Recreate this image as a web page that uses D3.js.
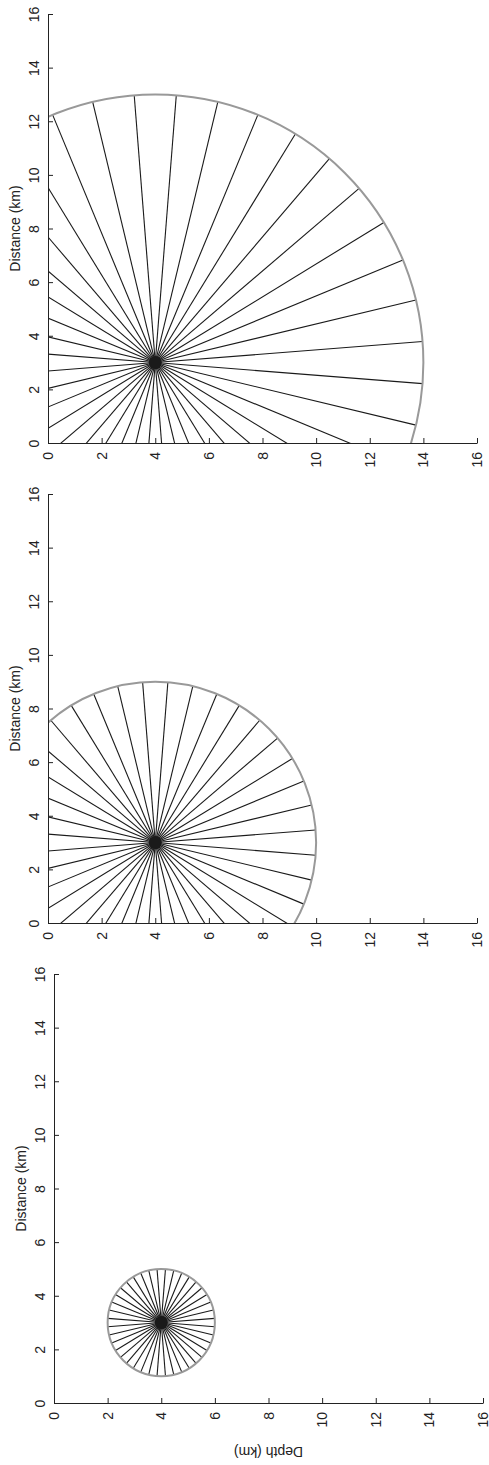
<!DOCTYPE html>
<html>
<head>
<meta charset="utf-8">
<script src="https://cdn.jsdelivr.net/npm/d3@7"></script>
<style>
  body { margin: 0; background: #fff; }
  text { font-family: "Liberation Sans", Arial, sans-serif; font-size: 14px; fill: #222; }
</style>
</head>
<body>
<div id="chart"></div>
<script>
// wavefront radii (km) for the three panels, top to bottom
const radii = [10, 6, 2];
// source position
const sourceDepth = 4;
const sourceDistance = 3;
// ray directions in degrees (40 rays)
const rayAngles = [4.5, 13.5, 22.5, 31.5, 40.5, 49.5, 58.5, 67.5, 76.5, 85.5,
  94.5, 103.5, 112.5, 121.5, 130.5, 139.5, 148.5, 157.5, 166.5, 175.5,
  184.5, 193.5, 202.5, 211.5, 220.5, 229.5, 238.5, 247.5, 256.5, 265.5,
  274.5, 283.5, 292.5, 301.5, 310.5, 319.5, 328.5, 337.5, 346.5, 355.5];
const tickValues = [0, 2, 4, 6, 8, 10, 12, 14, 16];
const axisMax = 16;

const width = 489, height = 1465;
const plotSize = 429;
const panelLeft = [48, 48, 54];
const panelBottom = [443, 923, 1403];

const svg = d3.select("#chart").append("svg")
  .attr("width", width)
  .attr("height", height);

radii.forEach((r, i) => {
  const x = d3.scaleLinear().domain([0, axisMax]).range([panelLeft[i], panelLeft[i] + plotSize]);
  const y = d3.scaleLinear().domain([0, axisMax]).range([panelBottom[i], panelBottom[i] - plotSize]);

  const g = svg.append("g");

  // clip to the data area so rays and arc stop at the axes
  const clipId = "clip" + i;
  svg.append("clipPath").attr("id", clipId)
    .append("rect")
    .attr("x", x(0))
    .attr("y", y(axisMax))
    .attr("width", x(axisMax) - x(0))
    .attr("height", y(0) - y(axisMax));

  const plot = g.append("g").attr("clip-path", `url(#${clipId})`);

  plot.selectAll("line.ray")
    .data(rayAngles)
    .join("line")
    .attr("class", "ray")
    .attr("x1", x(sourceDepth))
    .attr("y1", y(sourceDistance))
    .attr("x2", a => x(sourceDepth + r * Math.cos(a * Math.PI / 180)))
    .attr("y2", a => y(sourceDistance + r * Math.sin(a * Math.PI / 180)))
    .attr("stroke", "#1a1a1a")
    .attr("stroke-width", 1.1);

  plot.append("circle")
    .attr("cx", x(sourceDepth))
    .attr("cy", y(sourceDistance))
    .attr("r", x(r) - x(0))
    .attr("fill", "none")
    .attr("stroke", "#999")
    .attr("stroke-width", 2);

  // source marker
  plot.append("circle")
    .attr("cx", x(sourceDepth))
    .attr("cy", y(sourceDistance))
    .attr("r", 6.5)
    .attr("fill", "#1a1a1a");

  // bottom axis, ticks pointing in
  const xAxis = g.append("g")
    .attr("transform", `translate(0,${y(0)})`)
    .call(d3.axisBottom(x).tickValues(tickValues).tickSize(-5).tickSizeOuter(0));
  xAxis.attr("font-size", null).attr("font-family", null);
  xAxis.selectAll("text")
    .attr("x", null).attr("y", null).attr("dy", null)
    .attr("text-anchor", "end")
    .attr("transform", "translate(4.5,9) rotate(-90)");

  // left axis
  const yAxis = g.append("g")
    .attr("transform", `translate(${x(0)},0)`)
    .call(d3.axisLeft(y).tickValues(tickValues).tickSize(-5).tickSizeOuter(0));
  yAxis.attr("font-size", null).attr("font-family", null);
  yAxis.selectAll("text")
    .attr("x", null).attr("y", null).attr("dy", null)
    .attr("text-anchor", "middle")
    .attr("transform", "translate(-9,0) rotate(-90)");

  g.selectAll(".domain, .tick line").attr("stroke", "#222");

  g.append("text")
    .attr("text-anchor", "middle")
    .attr("transform", `translate(${x(0) - 28},${(y(0) + y(axisMax)) / 2}) rotate(-90)`)
    .text("Distance (km)");

  if (i === radii.length - 1) {
    g.append("text")
      .attr("text-anchor", "middle")
      .attr("transform", `translate(${(x(0) + x(axisMax)) / 2},${y(0) + 44}) rotate(180)`)
      .text("Depth (km)");
  }
});
</script>
</body>
</html>
